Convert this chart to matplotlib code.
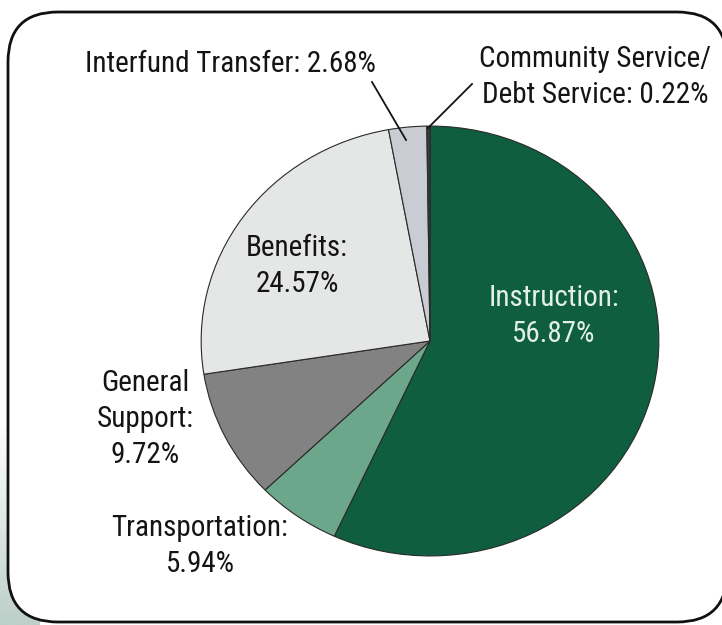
import matplotlib as mpl
mpl.use('Agg')
import matplotlib.pyplot as plt
from matplotlib import font_manager
from matplotlib.patches import FancyBboxPatch
import numpy as np

# budget shares, clockwise from 12 o'clock
categories = ['Instruction', 'Transportation', 'General Support', 'Benefits',
              'Interfund Transfer', 'Community Service/Debt Service']
shares = [56.87, 5.94, 9.72, 24.57, 2.68, 0.22]
colors = ['#0e5e3f', '#6ca78b', '#828282', '#e5e7e6', '#c9ccd2', '#3c3c3c']

# the scan uses a condensed face; take one if it is installed
names = {f.name for f in font_manager.fontManager.ttflist}
if 'Roboto Condensed' in names:
    family, fs = 'Roboto Condensed', 21
elif 'Liberation Sans Narrow' in names:
    family, fs = 'Liberation Sans Narrow', 21
else:
    family, fs = 'Roboto', 18.5
plt.rcParams['font.family'] = [family, 'DejaVu Sans']

W, H = 722, 625
fig = plt.figure(figsize=(W / 100, H / 100), dpi=100)

# background axes in pixel coordinates
bg = fig.add_axes([0, 0, 1, 1], zorder=0)
bg.axis('off')

# teal strip outside the frame, lower left
grad = np.linspace(0, 1, 100).reshape(-1, 1)
strip = mpl.colors.LinearSegmentedColormap.from_list('strip', ['#ffffff', '#bccfc9'])
bg.imshow(grad, extent=(0, 40, H, 420), cmap=strip, aspect='auto', zorder=0)
bg.set_xlim(0, W)
bg.set_ylim(H, 0)

frame = FancyBboxPatch((8, 12), 719, 610, boxstyle='round,pad=0,rounding_size=50',
                       facecolor='white', edgecolor='#111111', linewidth=2, zorder=1)
bg.add_patch(frame)

# pie axes (slightly elliptical, as in the scan)
cx, cy, rx, ry = 430, 341, 230, 216
pax = fig.add_axes([(cx - rx) / W, (H - cy - ry) / H, 2 * rx / W, 2 * ry / H], zorder=1)
pax.pie(shares, colors=colors, startangle=90, counterclock=False, radius=1,
        wedgeprops={'edgecolor': '#2a2a2a', 'linewidth': 0.8})
pax.set_aspect('auto')
pax.set_xlim(-1.005, 1.005)
pax.set_ylim(-1.005, 1.005)
pax.axis('off')

# overlay for labels
ov = fig.add_axes([0, 0, 1, 1], zorder=2)
ov.set_xlim(0, W)
ov.set_ylim(H, 0)
ov.axis('off')
ov.patch.set_alpha(0)

tc = '#141414'
kw = dict(fontsize=fs, ha='center', va='center', linespacing=1.35)
ov.text(230, 64, 'Interfund Transfer: 2.68%', color=tc, **kw)
ov.text(595, 77, 'Community Service/\nDebt Service: 0.22%', color=tc, **kw)
ov.text(297, 266, 'Benefits:\n24.57%', color=tc, **kw)
ov.text(554, 316, 'Instruction:\n56.87%', color='#e3f0e8', **kw)
ov.text(145, 419, 'General\nSupport:\n9.72%', color=tc, **kw)
ov.text(200, 546, 'Transportation:\n5.94%', color=tc, **kw)

# leader lines
ov.plot([372, 406], [82, 140], color='#141414', linewidth=1.3)
ov.plot([472, 428], [84, 128], color='#141414', linewidth=1.3)

fig.savefig('out.png', dpi=100)
